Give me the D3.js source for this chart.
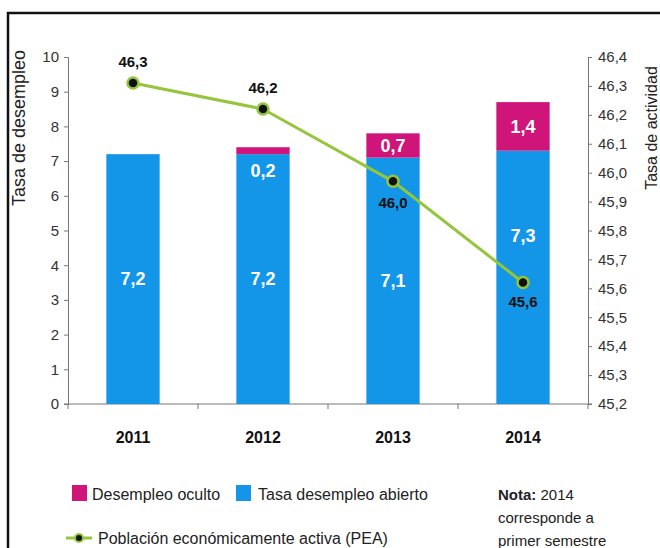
<!DOCTYPE html>
<html><head><meta charset="utf-8">
<script src="https://cdn.jsdelivr.net/npm/d3@7"></script>
<style>
html,body{margin:0;padding:0;background:#fff;}
svg{display:block;}
.narrow{font-family:'Liberation Sans Narrow','Arial Narrow','Liberation Sans',Arial,sans-serif;}
</style></head>
<body>
<svg id="c" width="660" height="548"></svg>
<script>
const years = ["2011","2012","2013","2014"];
const abierto = [7.2, 7.2, 7.1, 7.3];
const oculto = [0, 0.2, 0.7, 1.4];
const pea = [46.31, 46.22, 45.97, 45.62];
const leftTicks = [0,1,2,3,4,5,6,7,8,9,10];
const rightTicks = [45.2,45.3,45.4,45.5,45.6,45.7,45.8,45.9,46.0,46.1,46.2,46.3,46.4];

const svg = d3.select("#c");
const W = 660, H = 548;
const x0 = 68, x1 = 588, yTop = 57, yBot = 404;
const pink = "#d0157a", blue = "#1496e8", green = "#94c53a";
const fmt = v => d3.format(".1f")(v).replace(".", ",");

svg.append("rect").attr("width", W).attr("height", H).attr("fill", "#fff");
// frame
svg.append("rect").attr("x", 8).attr("y", 13).attr("width", 700).attr("height", 600)
  .attr("fill", "none").attr("stroke", "#111").attr("stroke-width", 2.5);

const x = d3.scaleBand().domain(years).range([x0, x1]).paddingInner(0.59).paddingOuter(0.295);
const y = d3.scaleLinear().domain([0, 10]).range([yBot, yTop]);
const y2 = d3.scaleLinear().domain([45.2, 46.4]).range([yBot, yTop]);

// axes
const gL = svg.append("g").attr("transform", `translate(${x0},0)`)
  .call(d3.axisLeft(y).tickValues(leftTicks).tickSize(4).tickPadding(5).tickFormat(d => d));
const gR = svg.append("g").attr("transform", `translate(${x1},0)`)
  .call(d3.axisRight(y2).tickValues(rightTicks).tickSize(4).tickPadding(6).tickFormat(fmt));
[gL, gR].forEach(g => {
  g.selectAll("path,line").attr("stroke", "#777");
  g.selectAll("text").attr("class", "narrow").attr("font-size", 15).attr("fill", "#333");
});
const bounds = [x0].concat(years.slice(1).map(d => x(d) - x.step() * x.paddingInner() / 2), [x1]);
const gB = svg.append("g");
gB.append("line").attr("x1", x0 - 4).attr("x2", x1 + 4).attr("y1", yBot).attr("y2", yBot).attr("stroke", "#777");
gB.selectAll("line.t").data(bounds).enter().append("line")
  .attr("x1", d => d).attr("x2", d => d).attr("y1", yBot).attr("y2", yBot + 5).attr("stroke", "#777");
svg.selectAll("text.yr").data(years).enter().append("text")
  .attr("x", d => x(d) + x.bandwidth() / 2).attr("y", 443).attr("text-anchor", "middle")
  .attr("font-family", "Liberation Sans, Arial, sans-serif").attr("font-weight", "bold")
  .attr("font-size", 16).attr("fill", "#111").text(d => d);

// bars
svg.selectAll("rect.a").data(years).enter().append("rect")
  .attr("x", d => x(d)).attr("width", x.bandwidth())
  .attr("y", (d, i) => y(abierto[i])).attr("height", (d, i) => y(0) - y(abierto[i]))
  .attr("fill", blue);
svg.selectAll("rect.o").data(years).enter().append("rect")
  .attr("x", d => x(d)).attr("width", x.bandwidth())
  .attr("y", (d, i) => y(abierto[i] + oculto[i])).attr("height", (d, i) => y(abierto[i]) - y(abierto[i] + oculto[i]))
  .attr("fill", pink);

// bar labels
const lblFont = "Liberation Sans, Arial, sans-serif";
svg.selectAll("text.av").data(years).enter().append("text")
  .attr("x", d => x(d) + x.bandwidth() / 2)
  .attr("y", (d, i) => (i === 3 ? y(4.85) : y(abierto[i] / 2)) + 6)
  .attr("text-anchor", "middle").attr("font-family", lblFont).attr("font-weight", "bold")
  .attr("font-size", 18).attr("fill", "#fff").text((d, i) => fmt(abierto[i]));
svg.selectAll("text.ov").data(years.filter((d, i) => oculto[i] > 0)).enter().append("text")
  .attr("x", d => x(d) + x.bandwidth() / 2)
  .attr("y", d => { const i = years.indexOf(d); return (i === 1 ? y(abierto[i]) + 23 : y(abierto[i] + oculto[i] / 2) + 7); })
  .attr("text-anchor", "middle").attr("font-family", lblFont).attr("font-weight", "bold")
  .attr("font-size", 18).attr("fill", "#fff").text(d => fmt(oculto[years.indexOf(d)]));

// line
const cx = d => x(d) + x.bandwidth() / 2;
const line = d3.line().x((d, i) => cx(years[i])).y(d => y2(d));
svg.append("path").datum(pea).attr("d", line).attr("fill", "none")
  .attr("stroke", green).attr("stroke-width", 3);
svg.selectAll("circle.m").data(pea).enter().append("circle")
  .attr("cx", (d, i) => cx(years[i])).attr("cy", d => y2(d)).attr("r", 5.5)
  .attr("fill", "#111").attr("stroke", green).attr("stroke-width", 2.5);
const offs = [-16, -16, 27, 24];
svg.selectAll("text.pl").data(pea).enter().append("text")
  .attr("x", (d, i) => cx(years[i])).attr("y", (d, i) => y2(d) + offs[i])
  .attr("text-anchor", "middle").attr("font-family", lblFont).attr("font-weight", "bold")
  .attr("font-size", 15).attr("fill", "#111").text(d => fmt(d));

// axis titles
svg.append("text").attr("transform", "translate(25,128) rotate(-90)").attr("text-anchor", "middle")
  .attr("font-family", "Liberation Sans, Arial, sans-serif").attr("font-size", 18).attr("fill", "#222")
  .text("Tasa de desempleo");
svg.append("text").attr("transform", "translate(657,128) rotate(-90)").attr("text-anchor", "middle")
  .attr("font-family", "Liberation Sans, Arial, sans-serif").attr("font-size", 16).attr("fill", "#222")
  .text("Tasa de actividad");

// legend
const lg = svg.append("g").attr("class", "narrow").attr("font-size", 16).attr("fill", "#222");
lg.append("rect").attr("x", 72).attr("y", 485).attr("width", 15).attr("height", 16).attr("fill", pink);
lg.append("text").attr("x", 92).attr("y", 500).text("Desempleo oculto");
lg.append("rect").attr("x", 236).attr("y", 485).attr("width", 15).attr("height", 16).attr("fill", blue);
lg.append("text").attr("x", 258).attr("y", 500).text("Tasa desempleo abierto");
lg.append("line").attr("x1", 66).attr("x2", 92).attr("y1", 538).attr("y2", 538).attr("stroke", green).attr("stroke-width", 3);
lg.append("circle").attr("cx", 79).attr("cy", 538).attr("r", 4).attr("fill", "#111").attr("stroke", green).attr("stroke-width", 2);
lg.append("text").attr("x", 98).attr("y", 544).text("Población económicamente activa (PEA)");
const nt = lg.append("text").attr("x", 498).attr("y", 500).attr("font-size", 15);
nt.append("tspan").attr("font-weight", "bold").text("Nota:");
nt.append("tspan").text(" 2014");
lg.append("text").attr("x", 498).attr("y", 523).attr("font-size", 15).text("corresponde a");
lg.append("text").attr("x", 498).attr("y", 546).attr("font-size", 15).text("primer semestre");
</script>
</body></html>
